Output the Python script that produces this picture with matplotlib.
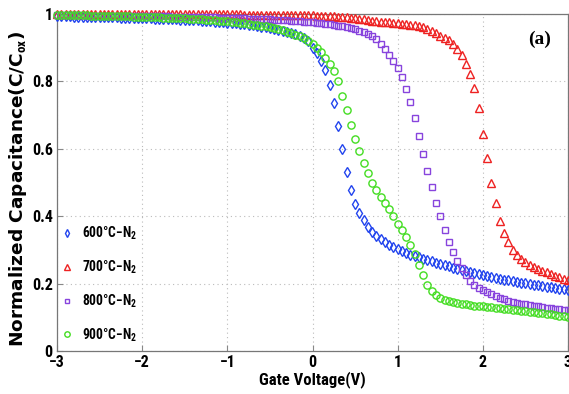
import numpy as np
import matplotlib
matplotlib.use("Agg")
import matplotlib.pyplot as plt
from matplotlib.lines import Line2D
from matplotlib import font_manager as fm

# ---------------- data ----------------
gate_voltage = np.round(np.arange(-3.0, 3.0001, 0.05), 2)

c_600 = [
    0.993, 0.993, 0.993, 0.993, 0.992, 0.992, 0.992, 0.992, 0.991, 0.991,
    0.991, 0.991, 0.990, 0.990, 0.990, 0.989, 0.989, 0.989, 0.988, 0.988,
    0.988, 0.987, 0.987, 0.986, 0.986, 0.985, 0.985, 0.984, 0.984, 0.983,
    0.983, 0.982, 0.981, 0.981, 0.980, 0.979, 0.978, 0.977, 0.976, 0.975,
    0.974, 0.973, 0.972, 0.970, 0.969, 0.967, 0.966, 0.964, 0.962, 0.960,
    0.958, 0.956, 0.953, 0.950, 0.947, 0.944, 0.940, 0.936, 0.930, 0.919,
    0.900, 0.884, 0.862, 0.834, 0.790, 0.736, 0.668, 0.600, 0.530, 0.478,
    0.436, 0.410, 0.389, 0.368, 0.352, 0.340, 0.331, 0.323, 0.316, 0.309,
    0.302, 0.296, 0.291, 0.286, 0.282, 0.278, 0.274, 0.270, 0.266, 0.262,
    0.258, 0.254, 0.251, 0.247, 0.244, 0.241, 0.238, 0.235, 0.232, 0.229,
    0.226, 0.223, 0.221, 0.218, 0.215, 0.212, 0.210, 0.207, 0.205, 0.203,
    0.201, 0.199, 0.197, 0.195, 0.193, 0.191, 0.189, 0.187, 0.185, 0.183,
    0.181,
]

c_700 = [
    1.000, 1.000, 1.000, 1.000, 1.000, 1.000, 1.000, 1.000, 1.000, 1.000,
    1.000, 1.000, 1.000, 1.000, 1.000, 1.000, 1.000, 1.000, 1.000, 1.000,
    1.000, 1.000, 1.000, 1.000, 1.000, 0.999, 0.999, 0.999, 0.999, 0.999,
    0.999, 0.999, 0.999, 0.999, 0.999, 0.999, 0.999, 0.999, 0.999, 0.999,
    0.999, 0.999, 0.999, 0.999, 0.998, 0.998, 0.998, 0.998, 0.998, 0.998,
    0.998, 0.998, 0.998, 0.997, 0.997, 0.997, 0.997, 0.997, 0.996, 0.996,
    0.996, 0.995, 0.995, 0.994, 0.994, 0.993, 0.992, 0.991, 0.990, 0.989,
    0.987, 0.986, 0.984, 0.982, 0.980, 0.978, 0.977, 0.976, 0.975, 0.974,
    0.973, 0.971, 0.970, 0.968, 0.966, 0.963, 0.960, 0.956, 0.951, 0.944,
    0.936, 0.929, 0.922, 0.912, 0.897, 0.878, 0.853, 0.822, 0.780, 0.721,
    0.645, 0.572, 0.500, 0.440, 0.385, 0.350, 0.322, 0.301, 0.285, 0.272,
    0.263, 0.256, 0.249, 0.243, 0.238, 0.233, 0.228, 0.223, 0.219, 0.215,
    0.211,
]

c_800 = [
    0.996, 0.996, 0.996, 0.996, 0.996, 0.996, 0.996, 0.995, 0.995, 0.995,
    0.995, 0.995, 0.995, 0.995, 0.995, 0.994, 0.994, 0.994, 0.994, 0.994,
    0.994, 0.994, 0.993, 0.993, 0.993, 0.993, 0.993, 0.992, 0.992, 0.992,
    0.992, 0.992, 0.991, 0.991, 0.991, 0.990, 0.990, 0.990, 0.989, 0.989,
    0.989, 0.988, 0.988, 0.987, 0.987, 0.986, 0.986, 0.985, 0.985, 0.984,
    0.984, 0.983, 0.982, 0.982, 0.981, 0.980, 0.979, 0.978, 0.977, 0.976,
    0.975, 0.974, 0.972, 0.971, 0.969, 0.967, 0.965, 0.963, 0.961, 0.958,
    0.955, 0.951, 0.947, 0.942, 0.935, 0.925, 0.911, 0.895, 0.878, 0.860,
    0.840, 0.813, 0.777, 0.739, 0.690, 0.637, 0.585, 0.535, 0.487, 0.440,
    0.400, 0.360, 0.324, 0.294, 0.268, 0.245, 0.225, 0.208, 0.196, 0.187,
    0.180, 0.174, 0.168, 0.162, 0.157, 0.153, 0.149, 0.146, 0.143, 0.140,
    0.138, 0.136, 0.134, 0.133, 0.131, 0.129, 0.128, 0.126, 0.125, 0.123,
    0.122,
]

c_900 = [
    0.997, 0.997, 0.997, 0.997, 0.996, 0.996, 0.996, 0.996, 0.995, 0.995,
    0.995, 0.995, 0.994, 0.994, 0.994, 0.993, 0.993, 0.993, 0.992, 0.992,
    0.992, 0.991, 0.991, 0.990, 0.990, 0.989, 0.989, 0.988, 0.988, 0.987,
    0.987, 0.986, 0.985, 0.985, 0.984, 0.983, 0.982, 0.981, 0.980, 0.979,
    0.978, 0.976, 0.975, 0.973, 0.972, 0.970, 0.968, 0.967, 0.965, 0.963,
    0.960, 0.958, 0.955, 0.952, 0.948, 0.944, 0.939, 0.934, 0.928, 0.920,
    0.911, 0.900, 0.887, 0.870, 0.852, 0.830, 0.800, 0.757, 0.715, 0.672,
    0.630, 0.592, 0.557, 0.527, 0.500, 0.478, 0.458, 0.440, 0.420, 0.400,
    0.378, 0.358, 0.338, 0.315, 0.287, 0.255, 0.225, 0.197, 0.178, 0.166,
    0.158, 0.152, 0.148, 0.145, 0.142, 0.140, 0.138, 0.137, 0.135, 0.134,
    0.133, 0.131, 0.130, 0.129, 0.127, 0.126, 0.124, 0.123, 0.121, 0.120,
    0.118, 0.117, 0.115, 0.114, 0.112, 0.111, 0.109, 0.107, 0.105, 0.103,
    0.101,
]

series_labels = ["600°C\u2212N$_{2}$", "700°C\u2212N$_{2}$",
                 "800°C\u2212N$_{2}$", "900°C\u2212N$_{2}$"]
x_ticks = [-3, -2, -1, 0, 1, 2, 3]
x_tick_labels = ["\u22123", "\u22122", "\u22121", "0", "1", "2", "3"]
y_ticks = [0, 0.2, 0.4, 0.6, 0.8, 1]
y_tick_labels = ["0", "0.2", "0.4", "0.6", "0.8", "1"]

# ---------------- fonts ----------------
available = {f.name for f in fm.fontManager.ttflist}
narrow_name = "Liberation Sans"
for cand in ["Roboto Condensed", "Archivo Narrow", "Liberation Sans Narrow"]:
    if cand in available:
        narrow_name = cand
        break
plt.rcParams["font.family"] = [narrow_name, "DejaVu Sans"]
plt.rcParams["font.weight"] = "bold"
plt.rcParams["mathtext.fontset"] = "custom"
plt.rcParams["mathtext.rm"] = narrow_name + ":bold"
plt.rcParams["mathtext.it"] = narrow_name + ":bold"
plt.rcParams["mathtext.bf"] = narrow_name + ":bold"
plt.rcParams["mathtext.default"] = "rm"

fig = plt.figure(figsize=(5.69, 3.94), dpi=100)
ax = fig.add_axes([57 / 569, 1 - 351 / 394, 511 / 569, 337 / 394])

styles = [
    dict(marker="d", color="#2244ee", ms=5.0),
    dict(marker="^", color="#ee2222", ms=5.2),
    dict(marker="s", color="#8844dd", ms=4.3),
    dict(marker="o", color="#44dd22", ms=5.2),
]
series = [c_600, c_700, c_800, c_900]

handles = []
for vals, st, lab in zip(series, styles, series_labels):
    ax.plot(gate_voltage, vals, linestyle="none", marker=st["marker"],
            markersize=st["ms"], markerfacecolor="none",
            markeredgecolor=st["color"], markeredgewidth=1.0,
            clip_on=False, zorder=3)
    handles.append(Line2D([], [], linestyle="none", marker=st["marker"],
                          markersize=st["ms"] * 0.75, markerfacecolor="none",
                          markeredgecolor=st["color"], markeredgewidth=1.0,
                          label=lab))

ax.set_xlim(-3, 3)
ax.set_ylim(0, 1)
ax.set_xticks(x_ticks)
ax.set_xticklabels(x_tick_labels)
ax.set_yticks(y_ticks)
ax.set_yticklabels(y_tick_labels)
ax.tick_params(direction="in", length=4, width=0.8, color="#888888",
               labelsize=11.5, pad=3)
for lab in ax.get_xticklabels() + ax.get_yticklabels():
    lab.set_fontweight("bold")
ax.grid(True, linestyle=(0, (1, 3)), color="#bbbbbb", linewidth=0.8)
for sp in ax.spines.values():
    sp.set_color("#777777")
    sp.set_linewidth(0.9)

ax.set_xlabel("Gate Voltage(V)", fontsize=12, fontweight="bold",
              labelpad=0.5)
ax.set_ylabel("Normalized Capacitance(C/C$_{ox}$)", fontsize=13.3,
              fontweight="bold", family=["DejaVu Sans"])
ax.yaxis.set_label_coords(-0.055, 0.48)

leg = ax.legend(handles=handles, loc="upper left",
                bbox_to_anchor=(-0.009, 0.402), frameon=False,
                fontsize=9.8, labelspacing=1.2, handlelength=0.8,
                handletextpad=0.7, borderaxespad=0.3)

ax.text(0.945, 0.926, "(a)", transform=ax.transAxes, fontsize=14,
        fontweight="bold", family=["Liberation Serif", "DejaVu Serif"],
        ha="center", va="center")

fig.savefig("out.png", dpi=100)
